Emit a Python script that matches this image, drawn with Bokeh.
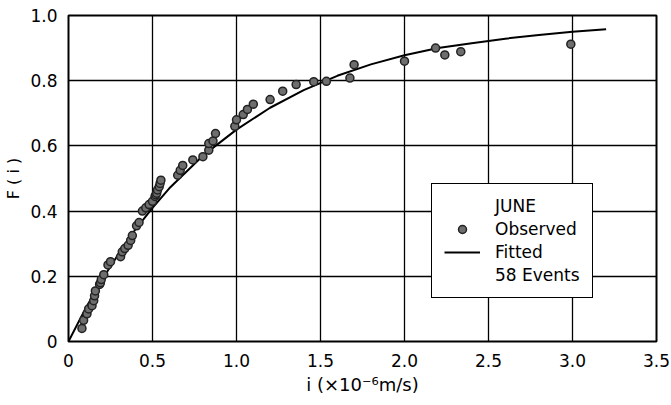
from bokeh.plotting import figure
from bokeh.models import Range1d, Legend, LegendItem, FixedTicker
from bokeh.embed import file_html
from bokeh.resources import INLINE

# Observed events
obs_i = [0.08, 0.09, 0.11, 0.12, 0.14, 0.15, 0.155, 0.16, 0.185, 0.19, 0.195, 0.21,
         0.235, 0.25, 0.31, 0.32, 0.335, 0.355, 0.37, 0.38, 0.405, 0.42, 0.44, 0.46,
         0.48, 0.50, 0.515, 0.52, 0.525, 0.53, 0.54, 0.545, 0.55, 0.65, 0.665, 0.68,
         0.74, 0.80, 0.835, 0.835, 0.86, 0.875, 0.99, 1.0, 1.04, 1.065, 1.10, 1.20,
         1.275, 1.355, 1.46, 1.535, 1.675, 1.70, 2.0, 2.185, 2.24, 2.335, 2.99]
obs_F = [0.04, 0.065, 0.085, 0.10, 0.11, 0.125, 0.14, 0.155, 0.175, 0.18, 0.19, 0.205,
         0.235, 0.245, 0.26, 0.275, 0.285, 0.295, 0.31, 0.325, 0.355, 0.365, 0.40, 0.41,
         0.42, 0.43, 0.445, 0.45, 0.455, 0.465, 0.475, 0.485, 0.495, 0.51, 0.525, 0.54,
         0.557, 0.567, 0.587, 0.607, 0.615, 0.638, 0.66, 0.68, 0.696, 0.712, 0.728, 0.742,
         0.768, 0.788, 0.797, 0.798, 0.808, 0.849, 0.86, 0.90, 0.879, 0.889, 0.912]

# Fitted curve
fit_i = [0, 0.1, 0.2, 0.3, 0.4, 0.5, 0.6, 0.7, 0.8, 0.9, 1.0, 1.2, 1.4, 1.6, 1.8,
         2.0, 2.2, 2.4, 2.6, 2.8, 3.0, 3.2]
fit_F = [0, 0.10, 0.19, 0.27, 0.345, 0.41, 0.47, 0.52, 0.57, 0.61, 0.65, 0.717, 0.771,
         0.815, 0.85, 0.878, 0.90, 0.915, 0.929, 0.94, 0.95, 0.958]

x_ticks = [0.0, 0.5, 1.0, 1.5, 2.0, 2.5, 3.0, 3.5]
x_tick_labels = ["0", "0.5", "1.0", "1.5", "2.0", "2.5", "3.0", "3.5"]
y_ticks = [0.0, 0.2, 0.4, 0.6, 0.8, 1.0]
y_tick_labels = ["0", "0.2", "0.4", "0.6", "0.8", "1.0"]

FONT = "DejaVu Sans"

p = figure(width=671, height=405, output_backend="svg", toolbar_location=None,
           x_range=Range1d(0, 3.5), y_range=Range1d(0, 1.0),
           min_border_left=68, min_border_right=15, min_border_top=15, min_border_bottom=64)

p.background_fill_color = "white"
p.outline_line_color = "black"
p.outline_line_width = 2

for ax, ticks, labels in ((p.xaxis[0], x_ticks, x_tick_labels), (p.yaxis[0], y_ticks, y_tick_labels)):
    ax.ticker = FixedTicker(ticks=ticks)
    ax.major_label_overrides = dict(zip(ticks, labels))
    ax.major_tick_line_color = None
    ax.minor_tick_line_color = None
    ax.axis_line_color = None
    ax.major_label_text_font = FONT
    ax.major_label_text_font_size = "17px"
    ax.major_label_text_color = "black"
    ax.axis_label_text_font = FONT
    ax.axis_label_text_font_style = "normal"
    ax.axis_label_text_color = "black"

p.xaxis.axis_label = "i (×10⁻⁶m/s)"
p.yaxis.axis_label = "F ( i )"
p.xaxis.axis_label_text_font_size = "18px"
p.yaxis.axis_label_text_font_size = "16px"
p.xaxis.major_label_standoff = 6
p.xaxis.axis_label_standoff = 4
p.yaxis.major_label_standoff = 5
p.yaxis.axis_label_standoff = 4

p.xgrid.ticker = FixedTicker(ticks=x_ticks)
p.ygrid.ticker = FixedTicker(ticks=y_ticks)
for g in (p.xgrid[0], p.ygrid[0]):
    g.grid_line_color = "black"
    g.grid_line_alpha = 1.0
    g.grid_line_width = 1.3

r_line = p.line(fit_i, fit_F, line_color="black", line_width=2)
r_pts = p.scatter(obs_i, obs_F, size=8, fill_color="#6e6e6e", line_color="#222222", line_width=1.5)
r_blank = p.scatter(x=[], y=[], fill_alpha=0, line_alpha=0)

legend = Legend(items=[
    LegendItem(label="JUNE", renderers=[r_blank]),
    LegendItem(label="Observed", renderers=[r_pts]),
    LegendItem(label="Fitted", renderers=[r_line]),
    LegendItem(label="58 Events", renderers=[r_blank]),
], location=(363, 43))
legend.label_text_font = FONT
legend.label_text_font_size = "17px"
legend.label_text_color = "black"
legend.label_height = 20
legend.glyph_height = 20
legend.glyph_width = 36
legend.spacing = 3
legend.padding = 12
legend.margin = 0
legend.label_standoff = 15
legend.border_line_color = "black"
legend.border_line_alpha = 1.0
legend.border_line_width = 1.5
legend.background_fill_color = "white"
legend.background_fill_alpha = 1.0
p.add_layout(legend)

open("out.html", "w").write(file_html(p, INLINE))
